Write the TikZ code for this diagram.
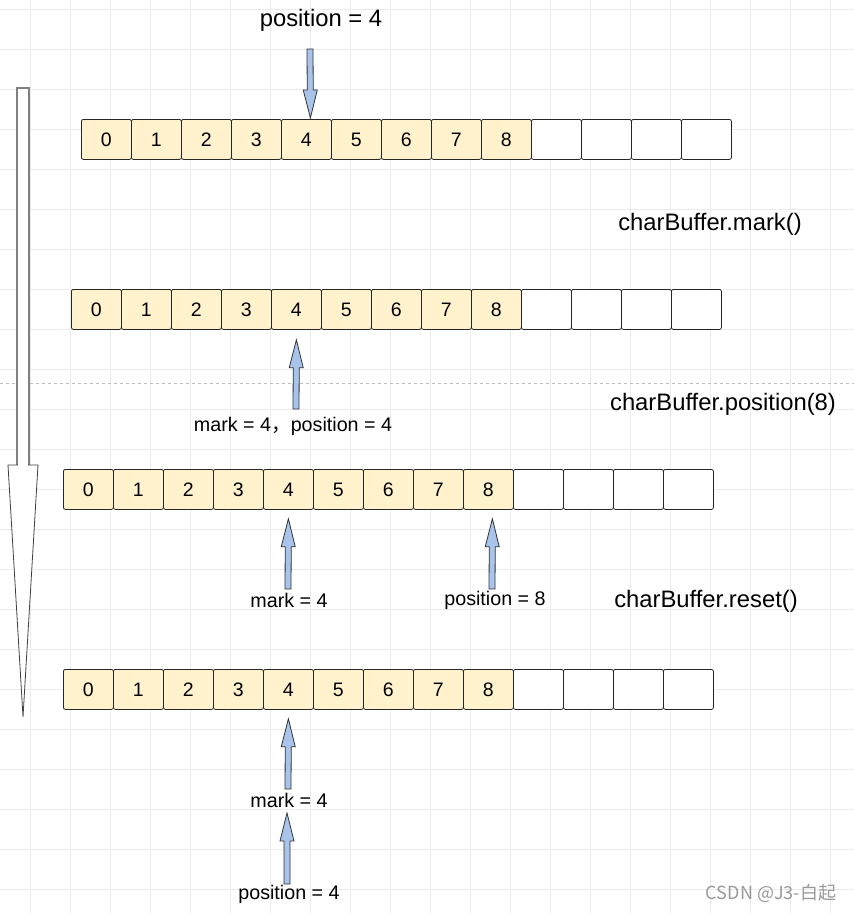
\documentclass[tikz,border=0pt]{standalone}
\usepackage{fontspec}
\setmainfont{Liberation Sans}
\newfontfamily\cjk{Noto Sans CJK SC}
\usetikzlibrary{calc}

\definecolor{cellfill}{HTML}{FFF2CC}
\definecolor{arrfill}{HTML}{A9C4EB}
\definecolor{gridgray}{HTML}{EBEBEB}

\tikzset{
  gridline/.style={gridgray, line width=0.8pt},
  cell/.style={draw=black!85, line width=0.8pt, rounded corners=2pt,
    minimum width=50pt, minimum height=40pt, inner sep=0pt,
    anchor=north west, font=\fontsize{19.5}{22}\selectfont},
  blockarr/.style={draw=black!80, fill=arrfill, line width=0.8pt, line join=miter},
  biglabel/.style={font=\fontsize{23.8}{28}\selectfont},
  smalllabel/.style={font=\fontsize{19.7}{23}\selectfont}
}

% one row of the buffer: name, left x, top y
\newcommand{\bufrow}[3]{%
  \foreach \i in {0,...,8}
    \node[cell, fill=cellfill] (#1c\i) at ({#2+50*\i},#3) {\i};
  \foreach \i in {9,...,12}
    \node[cell, fill=white] (#1c\i) at ({#2+50*\i},#3) {};
}

% block arrow from #1 to #2
\newcommand{\barrow}[2]{%
  \coordinate (hb) at ($(#2)!28pt!(#1)$);
  \draw[blockarr] ($(#1)!3pt!90:(#2)$) -- ($(hb)!3pt!90:(#2)$)
    -- ($(hb)!7pt!90:(#2)$) -- (#2) -- ($(hb)!7pt!-90:(#2)$)
    -- ($(hb)!3pt!-90:(#2)$) -- ($(#1)!3pt!-90:(#2)$) -- cycle;
}

\begin{document}
\begin{tikzpicture}[x=1pt, y=-1pt]
  \useasboundingbox (0,0) rectangle (854,913);
  \fill[white] (0,0) rectangle (854,913);

  % background grid
  \foreach \x in {30,70,...,830}
    \draw[gridline] (\x,0) -- (\x,913);
  \foreach \y in {9,49,...,889}
    \draw[gridline] (0,\y) -- (854,\y);

  \draw[black!25, dashed, dash pattern=on 3pt off 3pt, line width=0.7pt] (0,383) -- (854,383);

  % time arrow
  \draw[black!50, line width=1.3pt, fill=white] (17,88) -- (17,465) -- (29,465) -- (29,88) -- cycle;
  \draw[black!75, line width=0.8pt, fill=white] (8,465) -- (23,717) -- (38,465) -- cycle;
  \draw[white, line width=1.2pt] (18,465) -- (28,465);

  % buffers
  \bufrow{r1}{81}{119}
  \bufrow{r2}{71}{289}
  \bufrow{r3}{63}{469}
  \bufrow{r4}{63}{669}

  % labels
  \node[biglabel] (top) at (321,20) {position = 4};
  \node[biglabel] (markop) at (710,224) {charBuffer.mark()};
  \node[biglabel] (posop) at (723,404) {charBuffer.position(8)};
  \node[biglabel] (resetop) at (706,601) {charBuffer.reset()};
  \node[smalllabel] (both) at (293,426) {mark = 4{\cjk ，}position = 4};
  \node[smalllabel] (mk3) at (289,600) {mark = 4};
  \node[smalllabel] (ps3) at (495,600) {position = 8};
  \node[smalllabel] (mk4) at (289,800) {mark = 4};
  \node[smalllabel] (ps4) at (289,894) {position = 4};
  \node[black!40, font=\cjk\fontsize{18}{20}\selectfont] (wm) at (771,893) {CSDN @J3-白起};

  % pointers
  \coordinate (a1) at (310,49);
  \coordinate (a2) at (296,409);
  \coordinate (a3) at (288,589);
  \coordinate (a4) at (492,589);
  \coordinate (a5) at (288,789);
  \coordinate (a6) at (287,884);
  \coordinate (t6) at (287,813);
  \barrow{a1}{$(r1c4.north)+(4,-1)$}
  \barrow{a2}{$(r2c4.south)+(0,10)$}
  \barrow{a3}{$(r3c4.south)+(0,9)$}
  \barrow{a4}{$(r3c8.south)+(4,9)$}
  \barrow{a5}{$(r4c4.south)+(0,9)$}
  \barrow{a6}{t6}
\end{tikzpicture}
\end{document}
